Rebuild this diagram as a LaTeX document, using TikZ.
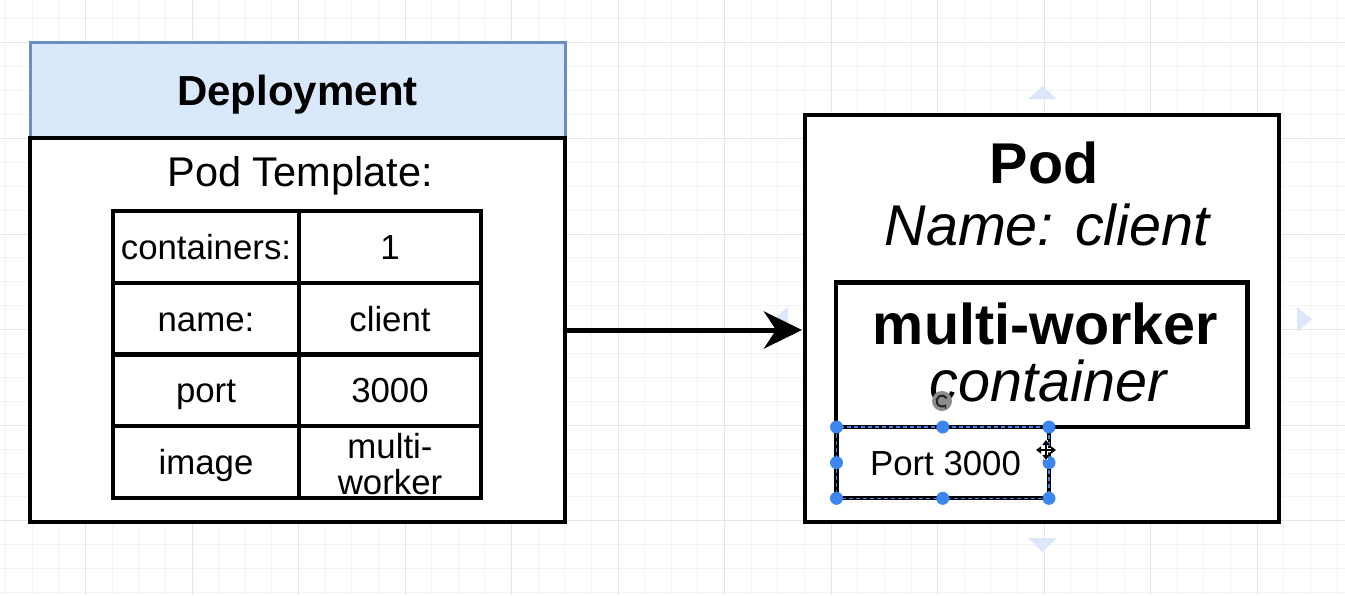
\documentclass[tikz,border=0pt]{standalone}
\usepackage{fontspec}
\setmainfont{Liberation Sans}
\usetikzlibrary{arrows.meta,calc}
\definecolor{gridminor}{HTML}{F3F3F3}
\definecolor{gridmajor}{HTML}{E5E5E5}
\definecolor{headfill}{HTML}{DAE8FC}
\definecolor{headline}{HTML}{6C8EBF}
\definecolor{selblue}{HTML}{3D86F2}
\definecolor{hintblue}{HTML}{DCE7FA}
\tikzset{
  box/.style={draw=black, line width=4.2pt, fill=white, rectangle, inner sep=0pt, outer sep=0pt},
  headbox/.style={draw=headline, line width=3pt, fill=headfill, rectangle, inner sep=0pt, outer sep=0pt,
    font=\fontsize{42}{48}\selectfont\bfseries, text height=30.2pt, text depth=0pt},
  cell/.style={box, font=\fontsize{34.8}{36}\selectfont, text height=25pt, text depth=0pt, minimum height=71.75pt},
  celltext/.style={font=\fontsize{34.8}{35.5}\selectfont, align=center, inner sep=0pt},
  bigbold/.style={font=\fontsize{57.5}{60}\selectfont\bfseries, anchor=base, inner sep=0pt},
  bigital/.style={font=\fontsize{57.5}{60}\selectfont\itshape, anchor=base, inner sep=0pt},
  plaintext/.style={anchor=base, inner sep=0pt},
  handle/.style={fill=selblue},
  hint/.style={fill=hintblue, draw=none},
  connector/.style={line width=5pt, -{Stealth[length=38pt,width=37pt,inset=12pt]}},
}
\begin{document}
\begin{tikzpicture}[x=1pt,y=-1pt]
\useasboundingbox (0,0) rectangle (1345,595);
\fill[white] (0,0) rectangle (1345,595);
% grid
\foreach \i in {0,...,50}{
  \pgfmathsetmacro\xx{5.6+26.63*\i}
  \draw[gridminor, line width=1pt] (\xx,0) -- (\xx,595);
}
\foreach \i in {0,...,24}{
  \pgfmathsetmacro\yy{18.9+23.9*\i}
  \draw[gridminor, line width=1pt] (0,\yy) -- (1345,\yy);
}
\foreach \i in {3,7,...,47}{
  \pgfmathsetmacro\xx{5.6+26.63*\i}
  \draw[gridmajor, line width=1pt] (\xx,0) -- (\xx,595);
}
\foreach \i in {1,5,...,21}{
  \pgfmathsetmacro\yy{18.9+23.9*\i}
  \draw[gridmajor, line width=1pt] (0,\yy) -- (1345,\yy);
}

% Deployment
\node[headbox, minimum width=535pt, minimum height=96pt] (dephead) at (297.5,90) {Deployment};
\node[box, minimum width=535pt, minimum height=384pt] (dep) at (297.5,330) {};
\node[plaintext, font=\fontsize{41.5}{45}\selectfont] (tpl) at (300,186) {Pod Template:};

% table
\node[cell, minimum width=186pt] (c11) at (206,246.9) {containers:};
\node[cell, minimum width=182pt] (c12) at (390,246.9) {1};
\node[cell, minimum width=186pt] (c21) at (206,318.6) {name:};
\node[cell, minimum width=182pt] (c22) at (390,318.6) {client};
\node[cell, minimum width=186pt] (c31) at (206,390.4) {port};
\node[cell, minimum width=182pt] (c32) at (390,390.4) {3000};
\node[cell, minimum width=186pt] (c41) at (206,462.1) {image};
\node[box, minimum width=182pt, minimum height=71.75pt] (c42) at (390,462.1) {};
\node[celltext] (c42t) at (390,464) {multi-\\worker};

% hint triangles (editor)
\fill[hint] (1028,99) -- (1057,99) -- (1042.5,86) -- cycle;
\fill[hint] (1028,538) -- (1057,538) -- (1042.5,552) -- cycle;
\fill[hint] (1297,307) -- (1297,332) -- (1312,319.5) -- cycle;
\fill[hint] (788,307) -- (788,332) -- (773,319.5) -- cycle;

% Pod
\node[box, minimum width=474pt, minimum height=407pt] (pod) at (1042,318.5) {};
\node[bigbold] (podt) at (1044,183.5) {Pod};
\node[bigital] (podn) at (1047,245.5) {Name: client};
\node[box, minimum width=411.5pt, minimum height=144.5pt] (cont) at (1041.75,354.75) {};
\node[bigbold] (contt) at (1045.5,344) {multi-worker};
\node[bigital] (conti) at (1048,401) {container};
\node[box, minimum width=212.5pt, minimum height=71.3pt] (port) at (942.75,462.65) {};
\draw[selblue, line width=1.6pt, dash pattern=on 4pt off 3pt] (port.north west) rectangle (port.south east);
\node[plaintext, font=\fontsize{34.8}{36}\selectfont] (portt) at (945.5,475.5) {Port 3000};
\foreach \a in {north west,north,north east,west,east,south west,south,south east}{
  \fill[handle] (port.\a) circle[radius=6.5pt];
}
% rotate icon
\fill[black!45] (942,401) circle[radius=10pt];
\draw[black!85, line width=2pt, -{Stealth[length=4pt,width=6pt]}] (942,401) ++(30:5.5pt) arc[start angle=30, end angle=320, radius=5.5pt];
% move cursor
\coordinate (mv) at (1046,450);
\draw[white, line width=4pt] ($(mv)+(-10,0)$) -- ($(mv)+(10,0)$) ($(mv)+(0,-10)$) -- ($(mv)+(0,10)$);
\draw[black, line width=1.6pt, {Triangle[length=5pt,width=7pt]}-{Triangle[length=5pt,width=7pt]}] ($(mv)+(-10,0)$) -- ($(mv)+(10,0)$);
\draw[black, line width=1.6pt, {Triangle[length=5pt,width=7pt]}-{Triangle[length=5pt,width=7pt]}] ($(mv)+(0,-10)$) -- ($(mv)+(0,10)$);

% connector
\draw[connector, shorten >=3pt] (dep.east) -- (dep.east -| pod.west);
\end{tikzpicture}
\end{document}
